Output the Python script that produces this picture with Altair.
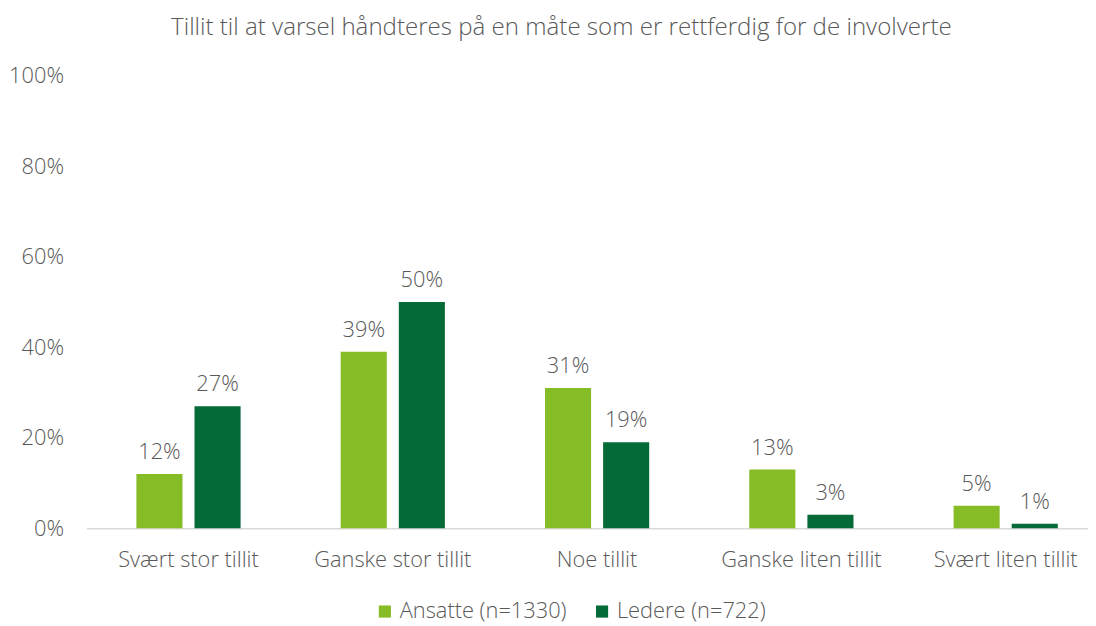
import altair as alt
import pandas as pd

categories = ["Svært stor tillit", "Ganske stor tillit", "Noe tillit", "Ganske liten tillit", "Svært liten tillit"]
series = ["Ansatte (n=1330)", "Ledere (n=722)"]
ansatte = [12, 39, 31, 13, 5]
ledere = [27, 50, 19, 3, 1]
colors = ["#86BC25", "#046A38"]
y_ticks = [0, 20, 40, 60, 80, 100]

rows = []
for c, a, l in zip(categories, ansatte, ledere):
    rows.append({"kategori": c, "gruppe": series[0], "verdi": a, "tekst": f"{a}%"})
    rows.append({"kategori": c, "gruppe": series[1], "verdi": l, "tekst": f"{l}%"})
df = pd.DataFrame(rows)

FONT = "Open Sans"
GREY = "#595959"
FS = 22

x = alt.X("kategori:N", sort=categories, title=None,
          scale=alt.Scale(range=[0, 1030], paddingInner=0.49, paddingOuter=0.245),
          axis=alt.Axis(labelAngle=0, labelFontSize=FS, labelColor=GREY, labelFont=FONT,
                        labelFontWeight=300,
                        ticks=False, domainColor="#D9D9D9", domainWidth=1.5,
                        labelPadding=22, labelLimit=300))
xo = alt.XOffset("gruppe:N", sort=series, scale=alt.Scale(paddingInner=0.207, paddingOuter=0))
y = alt.Y("verdi:Q", title=None,
          scale=alt.Scale(domain=[0, 100], nice=False),
          axis=alt.Axis(values=y_ticks, labelExpr="datum.value + '%'", grid=False, domain=False,
                        ticks=False, labelFontSize=FS, labelColor=GREY, labelFont=FONT,
                        labelFontWeight=300, labelPadding=23))

bars = alt.Chart(df).mark_bar().encode(
    x=x, xOffset=xo, y=y,
    color=alt.Color("gruppe:N", sort=series, scale=alt.Scale(domain=series, range=colors),
                    legend=alt.Legend(title=None, orient="none", direction="horizontal",
                                      legendX=290, legendY=529, symbolType="square",
                                      symbolSize=150, symbolStrokeWidth=0, labelFontSize=FS,
                                      labelColor=GREY, labelFont=FONT, labelFontWeight=300,
                                      columnPadding=24, labelOffset=4, labelLimit=300)),
)

labels = alt.Chart(df).mark_text(dy=-22, fontSize=FS, color=GREY, font=FONT, fontWeight=300).encode(
    x=x, xOffset=xo, y=y, text="tekst:N"
)

chart = (bars + labels).properties(
    width=1010, height=456,
    title=alt.TitleParams("Tillit til at varsel håndteres på en måte som er rettferdig for de involverte",
                          fontSize=24.3, font=FONT, color=GREY, fontWeight=300,
                          anchor="middle", offset=25, dx=-26),
    autosize=alt.AutoSizeParams(type="none"),
    padding={"left": 79, "top": 66, "right": 0, "bottom": 96},
).configure_view(stroke=None)

chart.save("out.html", embed_options={"renderer": "svg", "actions": False})
